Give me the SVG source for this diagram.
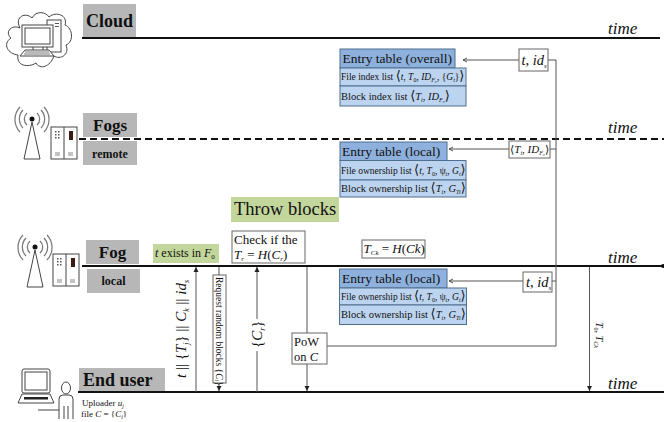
<svg xmlns="http://www.w3.org/2000/svg" xmlns:xlink="http://www.w3.org/1999/xlink" width="664" height="422" viewBox="0 0 664 422">
<style>
text{font-family:"Liberation Serif","DejaVu Serif",serif;fill:#111}
.i{font-style:italic}
.b{font-weight:bold}
.lab{fill:#b7b7b7}
.grn{fill:#c3d69b}
.tl{stroke:#111;stroke-width:2;fill:none}
.c{stroke:#555;stroke-width:1;fill:none}
.box{fill:#fff;stroke:#666;stroke-width:1}
.hd{fill:#8eb0dc;stroke:#4f6f8f;stroke-width:1}
.row{fill:#bdd4f0;stroke:#4f6f8f;stroke-width:1}
.ic{fill:none;stroke:#444;stroke-width:1}
.time{font-size:17px;font-style:italic}
.h{font-size:13.5px}
.r{font-size:9.5px}
.r2{font-size:10.5px}
.v{font-size:15px}
.br{font-size:13px}
</style>
<defs>
<marker id="a" markerWidth="6" markerHeight="6" refX="5" refY="3" orient="auto" markerUnits="userSpaceOnUse"><path d="M0,0.5L5,3L0,5.500z" fill="#222"/></marker>
<marker id="o" markerWidth="7" markerHeight="7" refX="6" refY="3.500" orient="auto" markerUnits="userSpaceOnUse"><path d="M2,1.500L6,3.500L2,5.500" fill="none" stroke="#555"/></marker>
<g id="ant">
<path class="ic" d="M32,122L24,159H40Z"/>
<circle cx="32" cy="119" r="2.500" fill="#111"/>
<g fill="none" stroke="#777" stroke-width="1.200">
<path d="M27,113a8,8 0 0 0 0,12M37,113a8,8 0 0 1 0,12"/>
<path d="M23,110a13,13 0 0 0 0,18M41,110a13,13 0 0 1 0,18"/>
<path d="M20,107a18,18 0 0 0 0,25M44,107a18,18 0 0 1 0,25"/>
</g>
</g>
<g id="srv">
<rect class="ic" x="0" y="0" width="26" height="32"/>
<path d="M13,0V32" class="ic"/>
<path d="M4,26H9M4,28H9M17,26H22M17,28H22" stroke="#888" fill="none"/>
<path d="M4,4h1.500v1.500h-1.500zM7,4h1.500v1.500h-1.500zM4,7h1.500v1.500h-1.500zM7,7h1.500v1.500h-1.500zM4,10h1.500v1.500h-1.500zM7,10h1.500v1.500h-1.500z" fill="#555"/>
<rect x="18" y="4" width="4" height="9" fill="#3a1a12"/>
</g>
</defs>

<g id="cloud">
<path class="ic" d="M20,28C14,16 26,12 32,18C36,10 46,12 49,17C56,11 68,15 65,25C73,28 74,42 66,45C70,55 60,60 54,56C50,67 40,70 36,63C28,68 16,66 18,55C8,54 2,44 11,38C4,32 12,24 20,28Z"/>
<rect class="ic" x="47" y="20" width="14" height="32"/>
<rect x="22" y="25" width="31" height="22" fill="#fff" stroke="#444"/>
<rect class="ic" x="25" y="28" width="25" height="16"/>
<path d="M55,23h4v1h-4zM55,26h4v1h-4z" fill="#555"/>
<path class="ic" d="M33,47V50M43,47V50"/>
<path d="M25,50H49L54,56H20Z" fill="#fff" stroke="#444"/>
<path d="M25,52H49M24,54H50" stroke="#777"/>
</g>
<g id="cloud-label"><rect class="lab" x="83" y="4" width="53" height="33"/><text x="109.500" y="27" class="b" font-size="18" text-anchor="middle">Cloud</text></g>

<g id="fogs">
<use xlink:href="#ant"/><use xlink:href="#srv" x="51" y="127"/>
</g>
<g id="fogs-label"><rect class="lab" x="83" y="113" width="54" height="24"/><text x="110" y="131" class="b" font-size="17" text-anchor="middle">Fogs</text></g>
<g id="remote-label"><rect class="lab" x="83" y="141" width="54" height="24"/><text x="110" y="158" class="b" font-size="12" text-anchor="middle">remote</text></g>

<g id="fog">
<use xlink:href="#ant" x="3" y="128"/><use xlink:href="#srv" x="53" y="254"/>
</g>
<g id="fog-label"><rect class="lab" x="86" y="240" width="53" height="24"/><text x="112.500" y="258" class="b" font-size="17" text-anchor="middle">Fog</text></g>
<g id="local-label"><rect class="lab" x="87" y="269" width="53" height="24"/><text x="113.500" y="285" class="b" font-size="12" text-anchor="middle">local</text></g>

<g id="user">
<rect class="ic" x="22" y="369" width="28" height="24" rx="2"/>
<rect class="ic" x="25" y="372" width="22" height="18"/>
<path d="M22,394H50L54,403H18Z" fill="#fff" stroke="#444"/>
<rect x="24" y="397" width="24" height="2.500" fill="#222"/>
<ellipse class="ic" cx="66" cy="388" rx="4.500" ry="6"/>
<path d="M59,419V399Q59,395 63,395H69Q73,395 73,399V419M64,419V406M68,419V406M38,410H59" fill="#fff" stroke="#444"/>
</g>
<g id="user-label"><rect class="lab" x="79" y="368" width="86" height="23"/><text x="83" y="386" class="b" font-size="18">End user</text></g>
<g id="uploader"><text x="82" y="406" font-size="9">Uploader <tspan class="i">u</tspan><tspan font-size="6" dy="2" class="i">j</tspan></text>
<text x="81" y="417" font-size="9">file  <tspan class="i">C</tspan> = {<tspan class="i">C</tspan><tspan font-size="6" dy="2" class="i">i</tspan><tspan dy="-2">}</tspan></text></g>

<g id="connectors">
<path class="tl" d="M82,38H660"/>
<path d="M79,139H664" stroke="#111" stroke-width="2" stroke-dasharray="7 4" fill="none"/>
<path class="tl" d="M82,266H664"/>
<circle cx="663" cy="266" r="2" fill="#111"/>
<path class="tl" d="M78,392H664"/>
<path class="c" d="M196,392V267" marker-end="url(#a)"/>
<path class="c" d="M219,267V391" marker-end="url(#a)"/>
<path class="c" d="M257,392V267" marker-end="url(#a)"/>
<path class="c" d="M307,267V391" marker-end="url(#a)"/>
<path class="c" d="M589.500,267V391" marker-end="url(#a)"/>
<path class="c" d="M548,60H556V346H327"/>
<path class="c" d="M519,60H463" marker-end="url(#o)"/>
<path class="c" d="M509,149H449" marker-end="url(#o)"/>
<path class="c" d="M523,281H449" marker-end="url(#o)"/>
<path class="c" d="M550,149H556M552,281H556"/>
</g>

<g id="time-labels">
<text x="608" y="34" class="time">time</text>
<text x="608" y="133" class="time">time</text>
<text x="608" y="263" class="time">time</text>
<text x="608" y="389" class="time">time</text>
</g>

<g id="table-overall">
<rect class="hd" x="340" y="49" width="115" height="19"/>
<rect class="row" x="340" y="68" width="126" height="18"/>
<rect class="row" x="340" y="86" width="126" height="20"/>
<text x="342.500" y="63" class="h">Entry table (overall)</text>
<text x="341" y="80" class="r">File index  list <tspan class="br">⟨</tspan><tspan class="i">t</tspan>, <tspan class="i">T</tspan><tspan font-size="6" dy="2">0</tspan><tspan dy="-2">, </tspan><tspan class="i">ID</tspan><tspan font-size="6" dy="2" class="i">F₀</tspan><tspan dy="-2">, {</tspan><tspan class="i">G</tspan><tspan font-size="6" dy="2" class="i">t</tspan><tspan dy="-2">}</tspan><tspan class="br">⟩</tspan></text>
<text x="341" y="100" class="r2">Block index list <tspan class="br">⟨</tspan><tspan class="i">T</tspan><tspan font-size="6" dy="2" class="i">i</tspan><tspan dy="-2">, </tspan><tspan class="i">ID</tspan><tspan font-size="6" dy="2" class="i">F₀</tspan><tspan dy="-2" class="br">⟩</tspan></text>
</g>
<g id="table-local-remote">
<rect class="hd" x="340" y="142" width="107" height="18.500"/>
<rect class="row" x="340" y="160.500" width="126" height="19.500"/>
<rect class="row" x="340" y="180" width="126" height="17"/>
<text x="342" y="155.500" class="h">Entry table (local)</text>
<text x="341" y="174" class="r">File ownership list <tspan class="br">⟨</tspan><tspan class="i">t</tspan>, <tspan class="i">T</tspan><tspan font-size="6" dy="2">0</tspan><tspan dy="-2">, ψ</tspan><tspan font-size="6" dy="2" class="i">t</tspan><tspan dy="-2">, </tspan><tspan class="i">G</tspan><tspan font-size="6" dy="2" class="i">t</tspan><tspan dy="-2" class="br">⟩</tspan></text>
<text x="341" y="192" class="r2">Block ownership list <tspan class="br">⟨</tspan><tspan class="i">T</tspan><tspan font-size="6" dy="2" class="i">i</tspan><tspan dy="-2">, </tspan><tspan class="i">G</tspan><tspan font-size="6" dy="2" class="i">Ti</tspan><tspan dy="-2" class="br">⟩</tspan></text>
</g>
<g id="table-local">
<rect class="hd" x="339.500" y="269" width="107.500" height="19"/>
<rect class="row" x="339.500" y="288" width="127" height="17"/>
<rect class="row" x="339.500" y="305" width="127" height="19.500"/>
<text x="342" y="283" class="h">Entry table (local)</text>
<text x="341" y="300" class="r">File ownership list <tspan class="br">⟨</tspan><tspan class="i">t</tspan>, <tspan class="i">T</tspan><tspan font-size="6" dy="2">0</tspan><tspan dy="-2">, ψ</tspan><tspan font-size="6" dy="2" class="i">t</tspan><tspan dy="-2">, </tspan><tspan class="i">G</tspan><tspan font-size="6" dy="2" class="i">t</tspan><tspan dy="-2" class="br">⟩</tspan></text>
<text x="341" y="318" class="r2">Block ownership list <tspan class="br">⟨</tspan><tspan class="i">T</tspan><tspan font-size="6" dy="2" class="i">i</tspan><tspan dy="-2">, </tspan><tspan class="i">G</tspan><tspan font-size="6" dy="2" class="i">Ti</tspan><tspan dy="-2" class="br">⟩</tspan></text>
</g>

<g id="box-tid-1"><rect class="box" x="519" y="49" width="29" height="22"/><text x="521.500" y="65" font-size="14.500" class="i">t<tspan font-style="normal">, </tspan>id<tspan font-size="7" dy="3">s</tspan></text></g>
<g id="box-tid-remote"><rect class="box" x="509" y="141" width="41" height="17"/><text x="510" y="153" font-size="11">⟨<tspan class="i">T</tspan><tspan font-size="6" dy="2" class="i">i</tspan><tspan dy="-2">, </tspan><tspan class="i">ID</tspan><tspan font-size="6" dy="2" class="i">F₀</tspan><tspan dy="-2">⟩</tspan></text></g>
<g id="box-tid-2"><rect class="box" x="523" y="272" width="29" height="20"/><text x="526" y="287" font-size="14.500" class="i">t<tspan font-style="normal">, </tspan>id<tspan font-size="7" dy="3">s</tspan></text></g>
<g id="box-tck"><rect class="box" x="362" y="240" width="63" height="18"/><text x="363.500" y="253" font-size="13"><tspan class="i">T</tspan><tspan font-size="7" dy="2" class="i">Ck</tspan><tspan dy="-2"> = </tspan><tspan class="i">H</tspan>(<tspan class="i">Ck</tspan>)</text></g>

<g id="throw"><rect class="grn" x="231" y="197" width="108" height="25"/><text x="234" y="215" font-size="18.500">Throw blocks</text></g>
<g id="check"><rect class="box" x="232" y="231" width="73" height="32"/><text x="234" y="243.500" font-size="13">Check if the</text><text x="234" y="259" font-size="13"><tspan class="i">T</tspan><tspan font-size="7" dy="2" class="i">r</tspan><tspan dy="-2"> = </tspan><tspan class="i">H</tspan>(<tspan class="i">C</tspan><tspan font-size="7" dy="2" class="i">r</tspan><tspan dy="-2">)</tspan></text></g>
<g id="exists"><rect class="grn" x="153" y="244" width="66" height="19"/><text x="155" y="257" font-size="12"><tspan class="i">t</tspan> exists in <tspan class="i">F</tspan><tspan font-size="7" dy="2">0</tspan></text></g>
<g id="request"><rect class="box" x="213" y="275" width="13" height="108"/><text transform="translate(216,277) rotate(90)" font-size="9.500">Request random blocks {<tspan class="i">C</tspan><tspan font-size="6" dy="1.500" class="i">i</tspan><tspan dy="-1.500">}</tspan></text></g>
<g id="pow"><rect class="box" x="292" y="333" width="35" height="31"/><text x="294" y="346" font-size="12.500">PoW</text><text x="294" y="361" font-size="12.500">on <tspan class="i">C</tspan></text></g>

<g id="rot-labels">
<text transform="translate(186,378) rotate(-90)" class="v"><tspan class="i">t</tspan> || {<tspan class="i">T</tspan><tspan font-size="8" dy="3" class="i">j</tspan><tspan dy="-3">} || </tspan><tspan class="i">C</tspan><tspan font-size="8" dy="3" class="i">k</tspan><tspan dy="-3"> || </tspan><tspan class="i">id</tspan><tspan font-size="8" dy="3" class="i">s</tspan></text>
<rect x="249" y="319" width="16" height="32" fill="#fff"/>
<text transform="translate(262,348) rotate(-90)" class="v">{<tspan class="i">C</tspan><tspan font-size="8" dy="3" class="i">r</tspan><tspan dy="-3">}</tspan></text>
<text transform="translate(596,322) rotate(90)" font-size="10"><tspan class="i">T</tspan><tspan font-size="6" dy="2">0</tspan><tspan dy="-2">, </tspan><tspan class="i">T</tspan><tspan font-size="6" dy="2" class="i">Ck</tspan></text>
</g>
</svg>
